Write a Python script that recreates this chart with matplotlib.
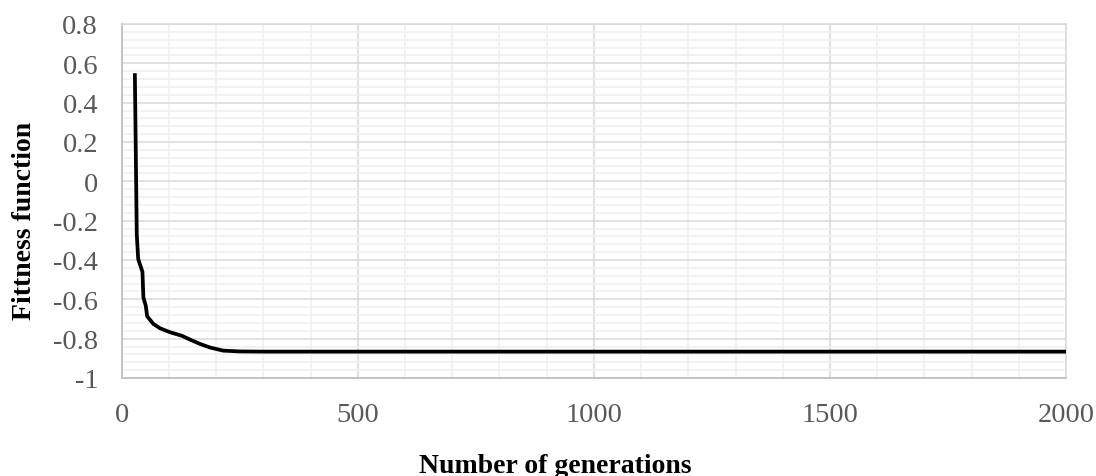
import matplotlib
matplotlib.use("Agg")
import matplotlib.pyplot as plt
from matplotlib.ticker import MultipleLocator, FuncFormatter

plt.rcParams['font.family'] = ['Liberation Serif', 'DejaVu Serif']
plt.rcParams['axes.unicode_minus'] = False

# Best fitness value per generation of the genetic algorithm
generations = [28, 32, 35, 44, 46, 51, 54, 67, 81, 102, 127, 145, 166, 187,
               215, 250, 300, 500, 1000, 1500, 2000]
fitness = [0.54, -0.27, -0.395, -0.46, -0.59, -0.632, -0.686, -0.725, -0.747,
           -0.767, -0.785, -0.805, -0.827, -0.845, -0.861, -0.865, -0.866,
           -0.866, -0.866, -0.866, -0.866]

x_ticks = [0, 500, 1000, 1500, 2000]
y_ticks = [0.8, 0.6, 0.4, 0.2, 0, -0.2, -0.4, -0.6, -0.8, -1]

fig = plt.figure(figsize=(10.96, 4.77), dpi=100)
ax = fig.add_axes([0.111, 0.2055, 0.8617, 0.7421])

ax.plot(generations, fitness, color='black', lw=2.7, solid_joinstyle='round',
        zorder=3)

ax.set_xlim(0, 2000)
ax.set_ylim(-1, 0.8)
ax.set_xticks(x_ticks)
ax.set_yticks(y_ticks)
ax.xaxis.set_minor_locator(MultipleLocator(100))
ax.yaxis.set_minor_locator(MultipleLocator(0.04))
ax.yaxis.set_major_formatter(FuncFormatter(lambda v, p: f"{round(v, 1):g}"))

ax.grid(which='major', color='#d9d9d9', lw=1.1, zorder=0)
ax.grid(which='minor', color='#efefef', lw=1.1, zorder=0)
ax.set_axisbelow(True)

ax.tick_params(which='both', length=0)
ax.tick_params(axis='y', labelsize=20.5, labelcolor='#595959', pad=17)
ax.tick_params(axis='x', labelsize=20.5, labelcolor='#595959', pad=17)

for side in ('top', 'right'):
    ax.spines[side].set_color('#d9d9d9')
    ax.spines[side].set_linewidth(1.1)
for side in ('left', 'bottom'):
    ax.spines[side].set_color('#bfbfbf')
    ax.spines[side].set_linewidth(1.3)

fig.text(0.507, 0.0084, 'Number of generations', ha='center', va='baseline',
         fontsize=20, fontweight='bold')
fig.text(0.022, 0.5367, 'Fittness function', ha='center', va='center',
         rotation=90, fontsize=20, fontweight='bold')

fig.savefig('out.png', dpi=100)
